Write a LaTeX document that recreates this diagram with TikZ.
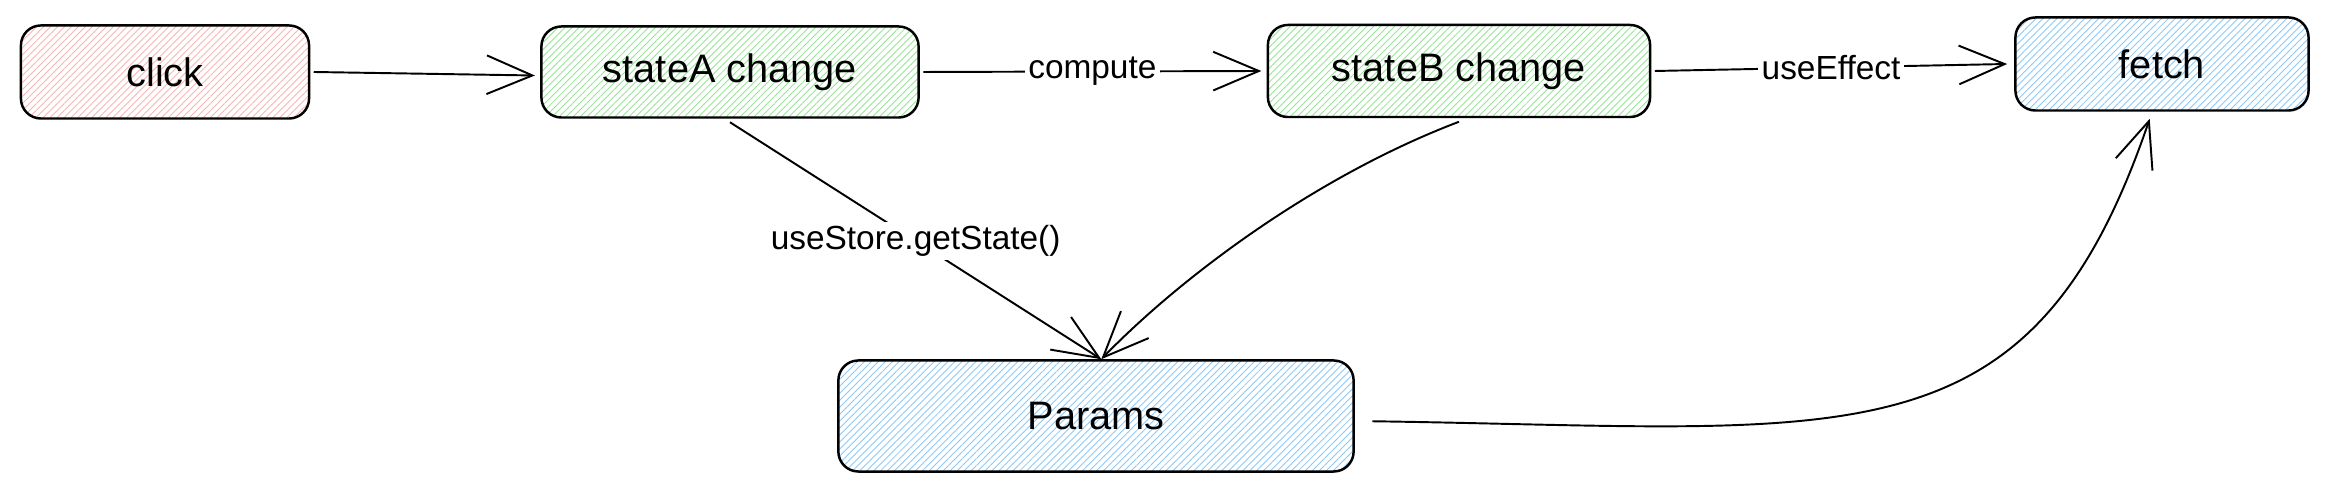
\documentclass[tikz,border=0pt]{standalone}
\usepackage{fontspec}
\setmainfont{Liberation Sans}
\usetikzlibrary{arrows.meta, patterns.meta}
\definecolor{hatchred}{RGB}{248,180,180}
\definecolor{hatchgreen}{RGB}{150,228,150}
\definecolor{hatchblue}{RGB}{140,200,245}
\tikzset{
  box/.style={draw, line width=0.7pt, rounded corners=0.2cm, inner sep=0pt, font=\fontsize{11.3}{13}\selectfont},
  hatch/.style={pattern={Lines[angle=45, distance=1.4pt, line width=0.25pt]}, pattern color=#1},
  flow/.style={line width=0.55pt, -{Straight Barb[length=13pt, width=11pt, line width=0.55pt]}},
  tag/.style={fill=white, inner sep=1pt, font=\fontsize{9.5}{11}\selectfont}
}

\begin{document}
\begin{tikzpicture}[x=0.01cm, y=-0.01cm]
  \useasboundingbox (0,0) rectangle (2344,495);
  % boxes
  \node[box, hatch=hatchred, minimum width=2.88cm, minimum height=0.93cm] (click) at (165,72) {click};
  \node[box, hatch=hatchgreen, minimum width=3.77cm, minimum height=0.91cm] (stateA) at (730,72) {stateA change};
  \node[box, hatch=hatchgreen, minimum width=3.82cm, minimum height=0.92cm] (stateB) at (1459,71) {stateB change};
  \node[box, hatch=hatchblue, minimum width=2.93cm, minimum height=0.93cm] (fetch) at (2162,64) {fetch};
  \node[box, hatch=hatchblue, minimum width=5.15cm, minimum height=1.11cm] (params) at (1096,416) {Params};
  % connectors
  \draw[flow] ([xshift=1.2pt]click.east) -- ([xshift=-1.5pt, yshift=-1pt]stateA.west);
  \draw[flow] ([xshift=1pt]stateA.east) -- node[tag] {compute} ([xshift=-1.5pt]stateB.west);
  \draw[flow] ([xshift=1pt]stateB.east) -- node[tag] {useEffect} ([xshift=-2pt]fetch.west);
  \draw[flow] ([yshift=-1pt]stateA.south) -- node[tag] {useStore.getState()} ([xshift=1.5pt]params.north);
  \draw[flow] ([yshift=-1pt]stateB.south) .. controls (1316,176) and (1181,277) .. ([xshift=1.5pt]params.north);
  \draw[flow] ([xshift=5pt, yshift=-1.5pt]params.east) .. controls (1850,428) and (2030,470) .. ([xshift=-3.5pt, yshift=-2pt]fetch.south);
\end{tikzpicture}
\end{document}
